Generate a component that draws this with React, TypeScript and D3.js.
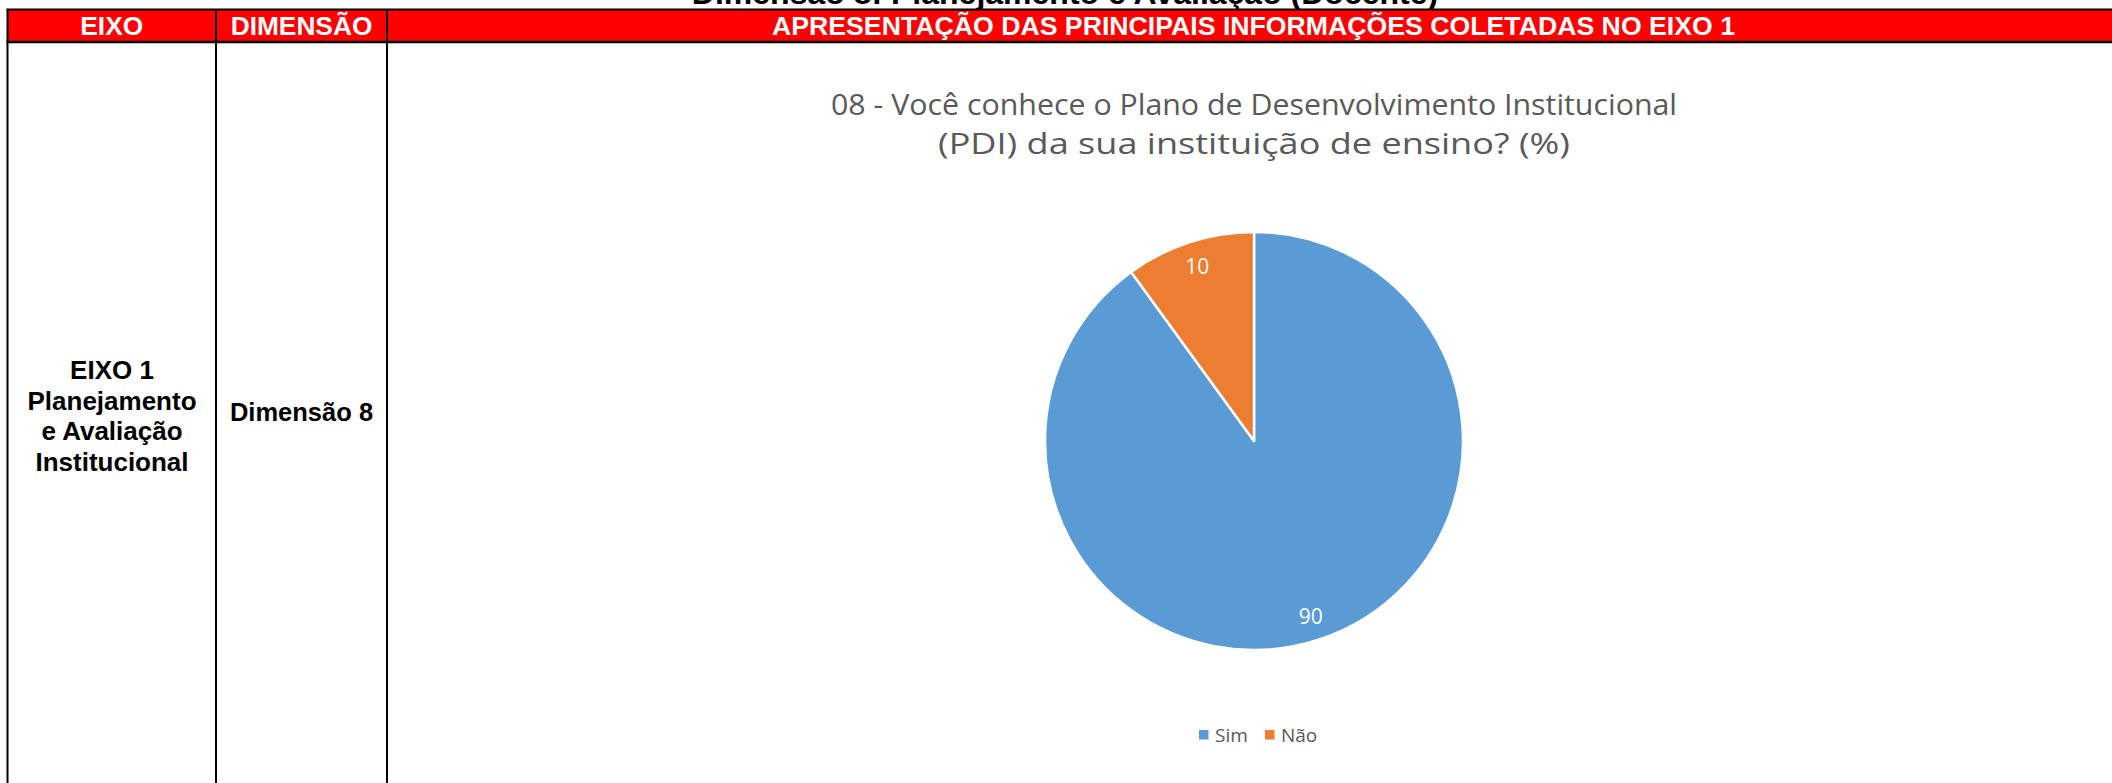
import React from "react";
import * as d3 from "d3";

const categories = ["Sim", "Não"];
const values = [90, 10];
const sliceColors = ["#5B9BD5", "#ED7D31"];
const headerLabels = ["EIXO", "DIMENSÃO", "APRESENTAÇÃO DAS PRINCIPAIS INFORMAÇÕES COLETADAS NO EIXO 1"];
const eixoLines = ["EIXO 1", "Planejamento", "e Avaliação", "Institucional"];
const dimensaoLabel = "Dimensão 8";
const pageTitle = "Dimensão 8: Planejamento e Avaliação (Docente)";
const chartTitle = [
  "08 - Você conhece o Plano de Desenvolvimento Institucional",
  "(PDI) da sua instituição de ensino? (%)",
];

const W = 2112;
const H = 783;
const ARIAL = "Arial, 'Liberation Sans', sans-serif";
const CHARTFONT = "'Open Sans', 'Noto Sans', sans-serif";

export default function App() {
  const colX = [7.5, 216, 387, 2116];
  const headTop = 9.5;
  const headBot = 42;
  const cx = 1254;
  const cy = 441;
  const r = 209;

  const pie = d3.pie<number>().sort(null).value((d) => d).startAngle(0).endAngle(2 * Math.PI);
  const arcs = pie(values);
  const arc = d3.arc<d3.PieArcDatum<number>>().innerRadius(0).outerRadius(r);
  const labelArc = d3.arc<d3.PieArcDatum<number>>().innerRadius(r * 0.88).outerRadius(r * 0.88);

  const legendItems = [
    { x: 1199, tx: 1215 },
    { x: 1265, tx: 1281 },
  ];

  return (
    <div style={{ position: "absolute", left: 0, top: 0, width: W, height: H, overflow: "hidden", background: "#fff" }}>
      <svg width={W} height={H} style={{ display: "block" }}>
        <rect x={0} y={0} width={W} height={H} fill="#fff" />
        {/* page title, cut off at the top as in the source */}
        <text x={1065} y={4} textAnchor="middle" fontFamily={ARIAL} fontWeight="bold" fontSize={32} fill="#000">
          {pageTitle}
        </text>
        {/* header bar */}
        <rect x={colX[0]} y={headTop} width={W} height={headBot - headTop} fill="#FF0000" />
        <line x1={colX[0] - 1} x2={W} y1={headTop} y2={headTop} stroke="#000" strokeWidth={2} />
        <line x1={colX[0] - 1} x2={W} y1={headBot} y2={headBot} stroke="#000" strokeWidth={2.5} />
        {colX.slice(0, 3).map((x, i) => (
          <line key={i} x1={x} x2={x} y1={headTop} y2={H} stroke="#000" strokeWidth={2} />
        ))}
        {headerLabels.map((t, i) => (
          <text
            key={t}
            x={i === 2 ? 1253.5 : (colX[i] + colX[i + 1]) / 2}
            y={35}
            textAnchor="middle"
            fontFamily={ARIAL}
            fontWeight="bold"
            fontSize={26.3}
            fill="#fff"
            {...(i === 2 ? { textLength: 963, lengthAdjust: "spacingAndGlyphs" } : {})}
          >
            {t}
          </text>
        ))}
        {/* left cells */}
        {eixoLines.map((t, i) => (
          <text key={t} x={112} y={379 + i * 30.5} textAnchor="middle" fontFamily={ARIAL} fontWeight="bold" fontSize={26} fill="#000">
            {t}
          </text>
        ))}
        <text x={301.5} y={421} textAnchor="middle" fontFamily={ARIAL} fontWeight="bold" fontSize={25.5} fill="#000">
          {dimensaoLabel}
        </text>
        {/* chart title */}
        <text x={cx} y={115} textAnchor="middle" fontFamily={CHARTFONT} fontSize={29} fill="#595959" textLength={846} lengthAdjust="spacingAndGlyphs">
          {chartTitle[0]}
        </text>
        <text x={cx} y={154} textAnchor="middle" fontFamily={CHARTFONT} fontSize={29} fill="#595959" textLength={632} lengthAdjust="spacingAndGlyphs">
          {chartTitle[1]}
        </text>
        {/* pie */}
        <g transform={`translate(${cx},${cy})`}>
          {arcs.map((a, i) => (
            <path key={categories[i]} d={arc(a) || ""} fill={sliceColors[i]} stroke="#fff" strokeWidth={2.5} strokeLinejoin="round" />
          ))}
          {arcs.map((a, i) => {
            const [lx, ly] = labelArc.centroid(a);
            return (
              <text key={"l" + i} x={lx} y={ly} textAnchor="middle" dominantBaseline="central" fontFamily={CHARTFONT} fontSize={21} fill="#fff">
                {values[i]}
              </text>
            );
          })}
        </g>
        {/* legend */}
        {categories.map((c, i) => (
          <g key={c}>
            <rect x={legendItems[i].x} y={730} width={9.5} height={9.5} fill={sliceColors[i]} />
            <text x={legendItems[i].tx} y={741.5} fontFamily={CHARTFONT} fontSize={19} fill="#595959">
              {c}
            </text>
          </g>
        ))}
      </svg>
    </div>
  );
}
